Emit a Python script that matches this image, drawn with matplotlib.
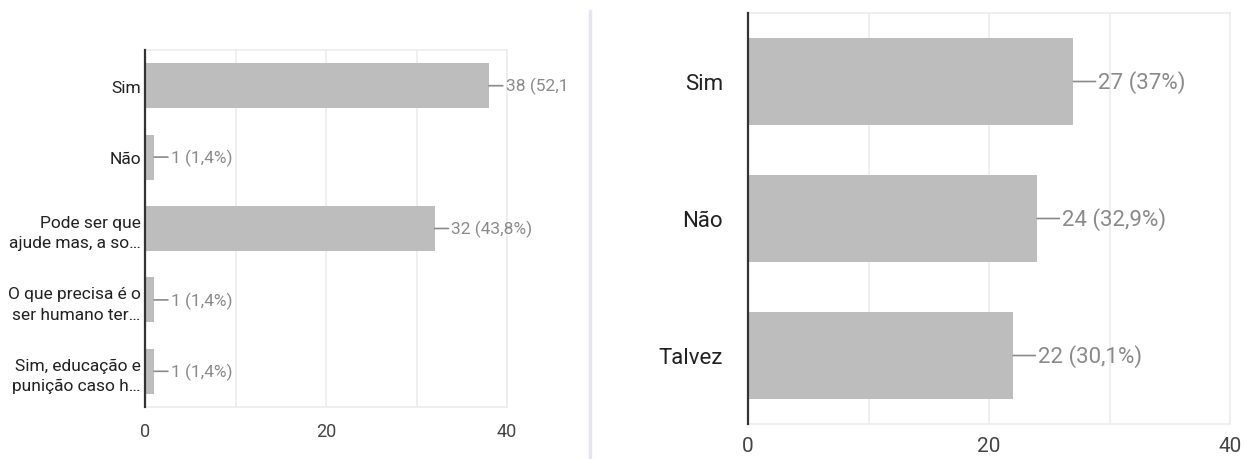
import matplotlib.pyplot as plt
from matplotlib.transforms import Bbox, TransformedBbox
from matplotlib.lines import Line2D

plt.rcParams['font.family'] = ['Roboto', 'DejaVu Sans']

# left question: five answers
left_labels = ["Sim", "Não", "Pode ser que\najude mas, a so…",
               "O que precisa é o\nser humano ter…", "Sim, educação e\npunição caso h…"]
left_counts = [38, 1, 32, 1, 1]
left_pcts = ["52,1%", "1,4%", "43,8%", "1,4%", "1,4%"]

# right question: three answers
right_labels = ["Sim", "Não", "Talvez"]
right_counts = [27, 24, 22]
right_pcts = ["37%", "32,9%", "30,1%"]

xticks = [0, 20, 40]

BAR = "#bdbdbd"
GRID = "#ececec"
AXIS = "#333333"
VALUE = "#8a8a8a"
TEXT = "#212121"

W, H = 1244, 460
fig = plt.figure(figsize=(W / 100, H / 100), dpi=100)


def rect(x0, x1, top, bottom):
    return [x0 / W, 1 - bottom / H, (x1 - x0) / W, (bottom - top) / H]


def bar_panel(ax, labels, counts, pcts, fs, tick_fs, lab_pad, tick_pad, lead, clip=None):
    n = len(labels)
    ys = list(range(n))
    ax.barh(ys, counts, height=0.63, color=BAR, zorder=2)
    ax.set_xlim(0, 40)
    ax.set_ylim(n - 0.5, -0.5)
    ax.set_xticks(xticks)
    ax.set_xticks([10, 30], minor=True)
    ax.grid(True, axis="x", which="both", color=GRID, lw=1.2, zorder=0)
    ax.tick_params(axis="x", length=0, which="both", labelsize=tick_fs,
                   colors="#444444", pad=tick_pad)
    ax.tick_params(axis="y", length=0, labelsize=fs, colors=TEXT, pad=lab_pad)
    ax.set_yticks(ys)
    ax.set_yticklabels(labels, linespacing=1.45)
    for s in ["top", "bottom", "right"]:
        ax.spines[s].set_color(GRID)
        ax.spines[s].set_linewidth(1.2)
    ax.spines["left"].set_color(AXIS)
    ax.spines["left"].set_linewidth(1.6)
    ax.spines["left"].set_zorder(3)
    for y, c, p in zip(ys, counts, pcts):
        t = ax.annotate(f"{c} ({p})", xy=(c, y), xytext=(lead, 0),
                        textcoords="offset points", va="center", ha="left",
                        fontsize=fs, color=VALUE, annotation_clip=False,
                        arrowprops=dict(arrowstyle="-", color=VALUE, lw=1.2,
                                        shrinkA=0, shrinkB=0))
        if clip is not None:
            t.set_clip_on(True)
            t.set_clip_box(clip)


left_clip = TransformedBbox(Bbox([[0, 0], [566 / W, 1]]), fig.transFigure)
ax1 = fig.add_axes(rect(145, 507, 51, 408))
bar_panel(ax1, left_labels, left_counts, left_pcts, fs=12.5, tick_fs=13,
          lab_pad=3, tick_pad=11, lead=12, clip=left_clip)

ax2 = fig.add_axes(rect(748, 1230, 14, 425))
bar_panel(ax2, right_labels, right_counts, right_pcts, fs=16, tick_fs=15,
          lab_pad=18, tick_pad=9, lead=18)

# thin divider between the two panels
fig.add_artist(Line2D([590 / W, 590 / W], [0, 1 - 12 / H], transform=fig.transFigure,
                      color="#e6e6f0", lw=2.5))

fig.savefig("out.png", dpi=100, facecolor="white")
